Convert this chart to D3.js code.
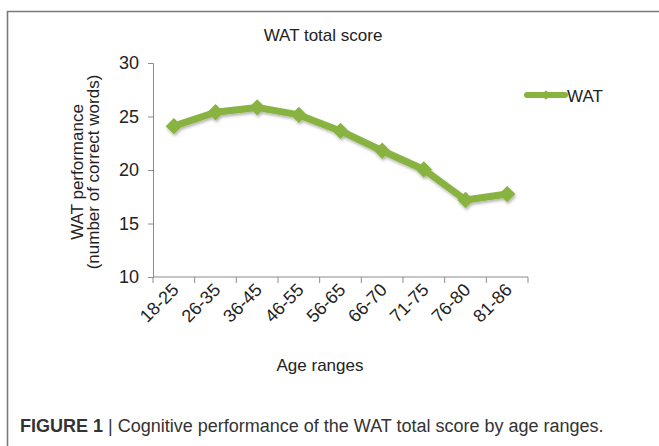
<!DOCTYPE html>
<html>
<head>
<meta charset="utf-8">
<script src="https://cdn.jsdelivr.net/npm/d3@7"></script>
<style>
  body { margin: 0; background: #fff; }
  text { font-family: "Liberation Sans", Arial, sans-serif; fill: #222; }
</style>
</head>
<body>
<div id="chart"></div>
<script>
// data
let ageRanges = ["18-25", "26-35", "36-45", "46-55", "56-65", "66-70", "71-75", "76-80", "81-86"];
let watScores = [24.1, 25.4, 25.85, 25.15, 23.65, 21.8, 20.05, 17.2, 17.75];
let yTicks = [10, 15, 20, 25, 30];

const width = 659, height = 446;
const plot = { left: 153, right: 528, top: 63, bottom: 277 };
const green = "#89b341";

let svg = d3.select("#chart")
    .append("svg")
    .attr("width", width)
    .attr("height", height);

// soft shadow like the excel line
let defs = svg.append("defs");
let shadow = defs.append("filter").attr("id", "shadow")
    .attr("x", "-20%").attr("y", "-20%").attr("width", "140%").attr("height", "160%");
shadow.append("feDropShadow")
    .attr("dx", 1).attr("dy", 2).attr("stdDeviation", 1.6)
    .attr("flood-color", "#000").attr("flood-opacity", 0.3);

// figure frame (top + left only visible)
svg.append("path")
    .attr("d", `M7.5,${height} V11.5 H${width}`)
    .attr("fill", "none")
    .attr("stroke", "#7a7a7a")
    .attr("stroke-width", 1.6);

// scales
let x = d3.scaleBand()
    .domain(ageRanges)
    .range([plot.left, plot.right]);

let y = d3.scaleLinear()
    .domain([10, 30])
    .range([plot.bottom, plot.top]);

// y axis
let yAxis = svg.append("g")
    .attr("transform", `translate(${plot.left}, 0)`)
    .call(d3.axisLeft(y).tickValues(yTicks).tickSize(5).tickPadding(9));
yAxis.selectAll("text").style("font-size", "18px").attr("fill", "#222");
yAxis.select(".domain").attr("stroke", "#8c8c8c");
yAxis.selectAll(".tick line").attr("stroke", "#8c8c8c");

// x axis (ticks at category boundaries)
let xAxis = svg.append("g")
    .attr("transform", `translate(0, ${plot.bottom})`);
xAxis.append("line")
    .attr("x1", plot.left).attr("x2", plot.right)
    .attr("stroke", "#8c8c8c");
xAxis.selectAll(".bt")
    .data(ageRanges)
    .enter()
    .append("line")
    .attr("x1", d => x(d)).attr("x2", d => x(d))
    .attr("y1", 0).attr("y2", 6)
    .attr("stroke", "#8c8c8c");
xAxis.append("line")
    .attr("x1", plot.right).attr("x2", plot.right)
    .attr("y1", 0).attr("y2", 6)
    .attr("stroke", "#8c8c8c");
xAxis.selectAll(".lbl")
    .data(ageRanges)
    .enter()
    .append("text")
    .attr("transform", d => `translate(${x(d) + x.bandwidth() / 2 + 6}, 14) rotate(-45)`)
    .style("text-anchor", "end")
    .style("font-size", "18px")
    .text(d => d);

// line + markers
let line = d3.line()
    .x((d, i) => x(ageRanges[i]) + x.bandwidth() / 2)
    .y(d => y(d));

let series = svg.append("g").attr("filter", "url(#shadow)");
series.append("path")
    .datum(watScores)
    .attr("d", line)
    .attr("fill", "none")
    .attr("stroke", green)
    .attr("stroke-width", 7)
    .attr("stroke-linejoin", "round");

series.selectAll(".pt")
    .data(watScores)
    .enter()
    .append("path")
    .attr("d", d3.symbol().type(d3.symbolDiamond2).size(170))
    .attr("transform", (d, i) => `translate(${x(ageRanges[i]) + x.bandwidth() / 2}, ${y(d)})`)
    .attr("fill", green);

// legend
let legend = svg.append("g").attr("transform", "translate(527, 95)");
legend.append("line")
    .attr("x1", 0).attr("x2", 38)
    .attr("stroke", green)
    .attr("stroke-width", 6)
    .attr("stroke-linecap", "round");
legend.append("path")
    .attr("d", d3.symbol().type(d3.symbolDiamond2).size(60))
    .attr("transform", "translate(19, 0)")
    .attr("fill", green);
legend.append("text")
    .attr("x", 40).attr("y", 6.5)
    .style("font-size", "17px")
    .text("WAT");

// title
svg.append("text")
    .attr("x", 323).attr("y", 41)
    .style("text-anchor", "middle")
    .style("font-size", "17px")
    .text("WAT total score");

// y axis label
let yLabel = svg.append("text")
    .attr("transform", "translate(83, 172) rotate(-90)")
    .style("text-anchor", "middle")
    .style("font-size", "17px");
yLabel.append("tspan").attr("x", 0).attr("dy", 0).text("WAT performance");
yLabel.append("tspan").attr("x", 0).attr("dy", 16).text("(number of correct words)");

// x axis label
svg.append("text")
    .attr("x", 320).attr("y", 371)
    .style("text-anchor", "middle")
    .style("font-size", "17px")
    .text("Age ranges");

// caption
let caption = svg.append("text")
    .attr("x", 20).attr("y", 432)
    .style("font-size", "18px")
    .attr("fill", "#333");
caption.append("tspan")
    .style("font-weight", "bold")
    .attr("fill", "#333")
    .text("FIGURE 1 ");
caption.append("tspan")
    .attr("fill", "#333")
    .text("| Cognitive performance of the WAT total score by age ranges.");
</script>
</body>
</html>
